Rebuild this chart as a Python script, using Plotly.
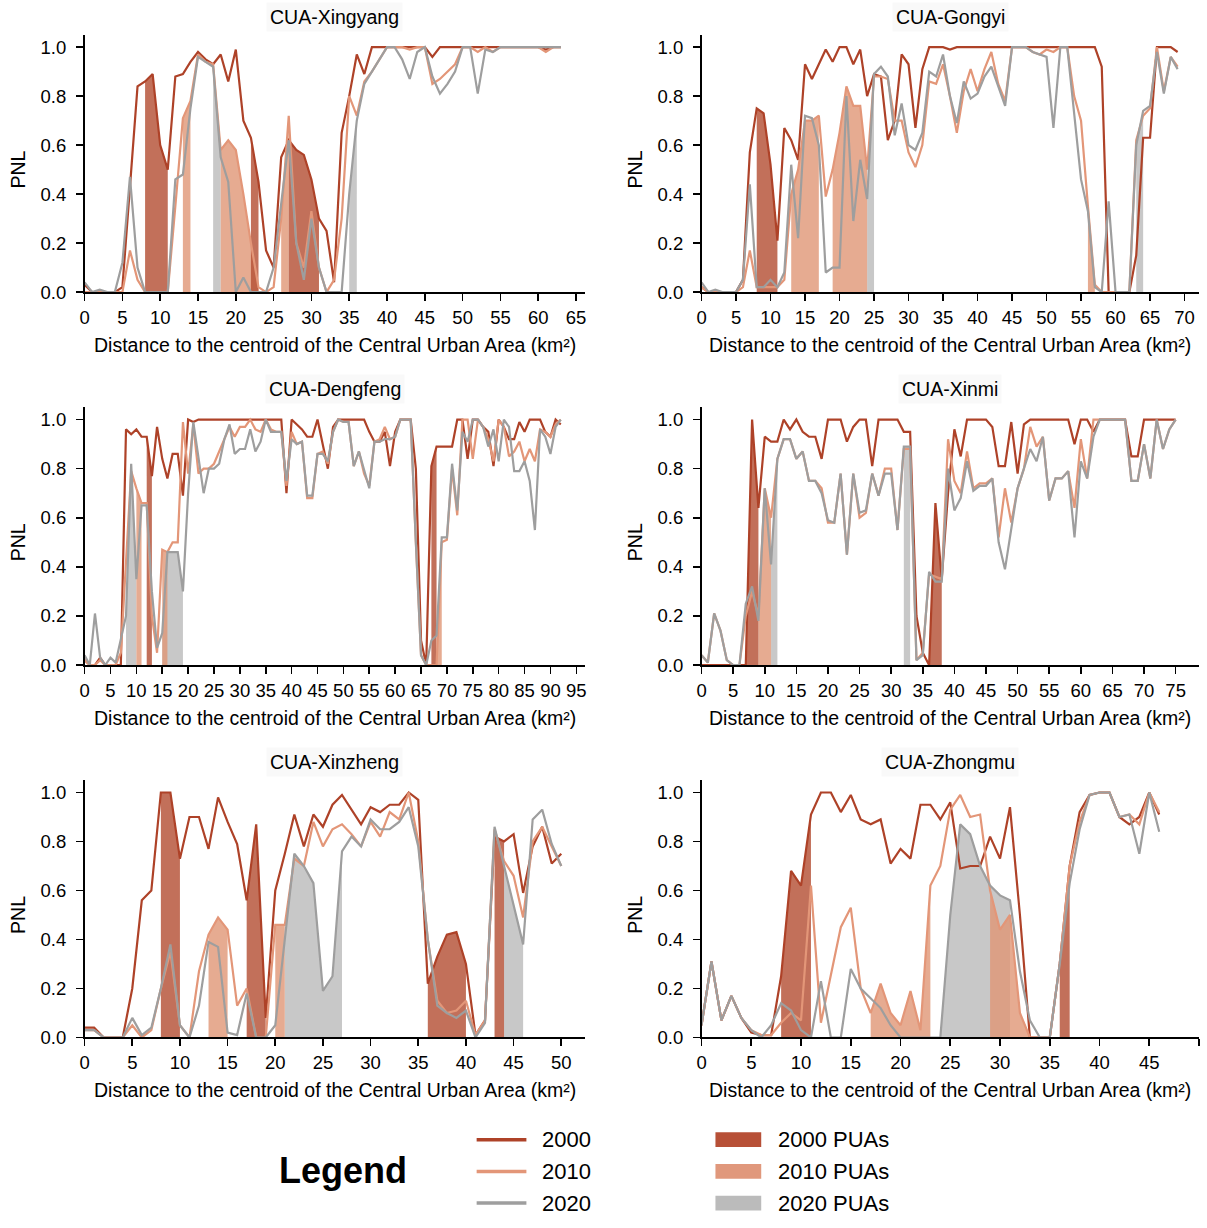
import plotly.graph_objects as go

# ---------------- data (PNL by distance, 1 km steps starting at 0 km) ----------------
xingyang_2000 = [0.03, 0.00, 0.00, 0.00, 0.00, 0.02, 0.42, 0.84, 0.86, 0.89,
                 0.60, 0.50, 0.88, 0.89, 0.94, 0.98, 0.95, 0.93, 0.97, 0.86,
                 0.99, 0.70, 0.63, 0.45, 0.17, 0.10, 0.55, 0.62, 0.58, 0.56,
                 0.46, 0.30, 0.25, 0.04, 0.65, 0.80, 0.97, 0.89, 1.00, 1.00,
                 1.00, 1.00, 1.00, 1.00, 1.00, 1.00, 0.96, 1.00, 1.00, 1.00,
                 1.00, 1.00, 1.00, 1.00, 1.00, 1.00, 1.00, 1.00, 1.00, 1.00,
                 1.00, 0.99, 1.00, 1.00]
xingyang_2010 = [0.00, 0.00, 0.00, 0.00, 0.00, 0.00, 0.17, 0.05, 0.00, 0.00,
                 0.00, 0.00, 0.35, 0.71, 0.78, 0.97, 0.94, 0.93, 0.58, 0.62,
                 0.58, 0.40, 0.20, 0.02, 0.00, 0.02, 0.30, 0.72, 0.20, 0.10,
                 0.33, 0.10, 0.00, 0.05, 0.30, 0.80, 0.72, 0.86, 0.90, 0.95,
                 1.00, 1.00, 1.00, 0.99, 1.00, 1.00, 0.85, 0.87, 0.90, 0.93,
                 1.00, 1.00, 0.98, 1.00, 0.98, 1.00, 1.00, 1.00, 1.00, 1.00,
                 1.00, 0.98, 1.00, 1.00]
xingyang_2020 = [0.04, 0.00, 0.01, 0.00, 0.00, 0.12, 0.47, 0.10, 0.00, 0.00,
                 0.00, 0.00, 0.46, 0.48, 0.75, 0.96, 0.94, 0.92, 0.55, 0.45,
                 0.00, 0.06, 0.00, 0.00, 0.00, 0.10, 0.35, 0.62, 0.20, 0.05,
                 0.30, 0.10, 0.00, 0.00, 0.00, 0.40, 0.70, 0.85, 0.90, 0.95,
                 1.00, 1.00, 0.95, 0.87, 0.98, 1.00, 0.88, 0.81, 0.85, 0.90,
                 1.00, 1.00, 0.81, 0.99, 0.98, 1.00, 1.00, 1.00, 1.00, 1.00,
                 1.00, 1.00, 1.00, 1.00]
xingyang_pua2000 = [(8, 11), (22, 23), (27, 31)]
xingyang_pua2010 = [(13, 14), (18, 23), (26, 27)]
xingyang_pua2020 = [(17, 18), (35, 36)]

gongyi_2000 = [0.02, 0.00, 0.00, 0.00, 0.00, 0.00, 0.05, 0.57, 0.75, 0.73,
               0.52, 0.21, 0.67, 0.62, 0.54, 0.93, 0.87, 0.93, 0.99, 0.94,
               1.00, 1.00, 0.93, 0.99, 0.80, 0.89, 0.88, 0.62, 0.70, 0.97,
               0.93, 0.67, 0.91, 1.00, 1.00, 1.00, 0.99, 1.00, 1.00, 1.00,
               1.00, 1.00, 1.00, 1.00, 1.00, 1.00, 1.00, 1.00, 1.00, 1.00,
               1.00, 1.00, 1.00, 1.00, 1.00, 1.00, 1.00, 1.00, 0.92, 0.00,
               0.00, 0.00, 0.00, 0.15, 0.63, 0.63, 1.00, 1.00, 1.00, 0.98]
gongyi_2010 = [0.02, 0.00, 0.00, 0.00, 0.00, 0.00, 0.02, 0.17, 0.02, 0.02,
               0.02, 0.02, 0.05, 0.40, 0.50, 0.70, 0.70, 0.72, 0.39, 0.50,
               0.65, 0.84, 0.76, 0.76, 0.50, 0.88, 0.88, 0.87, 0.70, 0.70,
               0.57, 0.51, 0.60, 0.86, 0.85, 0.93, 0.80, 0.65, 0.82, 0.91,
               0.82, 0.91, 0.98, 0.85, 0.78, 1.00, 1.00, 1.00, 0.98, 0.97,
               0.99, 0.98, 1.00, 1.00, 0.80, 0.70, 0.35, 0.03, 0.00, 0.00,
               0.00, 0.00, 0.00, 0.62, 0.72, 0.75, 1.00, 0.82, 0.96, 0.92]
gongyi_2020 = [0.04, 0.00, 0.01, 0.00, 0.00, 0.00, 0.05, 0.44, 0.02, 0.02,
               0.05, 0.02, 0.08, 0.52, 0.22, 0.72, 0.71, 0.60, 0.08, 0.10,
               0.10, 0.80, 0.29, 0.54, 0.38, 0.89, 0.92, 0.88, 0.64, 0.77,
               0.60, 0.58, 0.65, 0.90, 0.88, 0.97, 0.80, 0.69, 0.86, 0.79,
               0.81, 0.88, 0.92, 0.84, 0.76, 1.00, 1.00, 1.00, 0.98, 0.97,
               0.96, 0.67, 1.00, 1.00, 0.72, 0.46, 0.33, 0.02, 0.00, 0.37,
               0.00, 0.00, 0.00, 0.60, 0.74, 0.76, 0.98, 0.81, 0.96, 0.91]
gongyi_pua2000 = [(8, 11)]
gongyi_pua2010 = [(13, 17), (19, 24), (56, 57)]
gongyi_pua2020 = [(24, 25), (63, 64)]

dengfeng_2000 = [0.02, 0.00, 0.00, 0.03, 0.00, 0.00, 0.00, 0.00, 0.96, 0.94,
                 0.96, 0.93, 0.93, 0.77, 0.97, 0.84, 0.76, 0.86, 0.86, 0.69,
                 1.00, 0.99, 1.00, 1.00, 1.00, 1.00, 1.00, 1.00, 1.00, 1.00,
                 1.00, 1.00, 1.00, 1.00, 1.00, 1.00, 1.00, 1.00, 1.00, 0.70,
                 1.00, 0.98, 0.96, 0.93, 0.93, 1.00, 0.90, 0.80, 0.97, 1.00,
                 1.00, 1.00, 1.00, 1.00, 1.00, 0.95, 0.91, 0.91, 0.95, 0.81,
                 0.95, 1.00, 1.00, 1.00, 0.80, 0.10, 0.00, 0.81, 0.89, 0.89,
                 0.89, 0.89, 1.00, 1.00, 0.84, 1.00, 1.00, 0.97, 0.95, 0.81,
                 1.00, 0.97, 0.92, 0.92, 0.99, 0.95, 1.00, 1.00, 1.00, 0.95,
                 0.93, 1.00, 0.98]
dengfeng_2010 = [0.02, 0.00, 0.00, 0.02, 0.00, 0.00, 0.00, 0.05, 0.40, 0.79,
                 0.72, 0.66, 0.66, 0.20, 0.05, 0.47, 0.46, 0.50, 0.50, 0.99,
                 0.78, 0.98, 0.78, 0.80, 0.80, 0.82, 0.87, 0.92, 0.97, 0.93,
                 0.97, 0.97, 1.00, 0.96, 0.95, 1.00, 0.96, 0.95, 0.95, 0.73,
                 0.95, 0.90, 0.91, 0.68, 0.68, 0.86, 0.87, 0.82, 0.95, 1.00,
                 0.99, 0.99, 0.81, 0.87, 0.78, 0.73, 0.91, 0.92, 0.97, 0.92,
                 0.93, 1.00, 1.00, 1.00, 0.50, 0.04, 0.00, 0.00, 0.00, 0.50,
                 0.51, 0.80, 0.61, 1.00, 1.00, 0.84, 1.00, 0.97, 0.92, 0.83,
                 1.00, 0.97, 0.85, 0.87, 0.91, 0.83, 0.88, 0.83, 0.96, 0.95,
                 0.93, 0.98, 1.00]
dengfeng_2020 = [0.04, 0.00, 0.21, 0.03, 0.00, 0.03, 0.01, 0.10, 0.20, 0.82,
                 0.35, 0.65, 0.65, 0.30, 0.07, 0.13, 0.46, 0.46, 0.46, 0.30,
                 0.70, 0.99, 0.85, 0.70, 0.80, 0.80, 0.82, 0.92, 0.98, 0.86,
                 0.88, 0.88, 0.96, 0.87, 0.91, 1.00, 0.95, 0.95, 0.95, 0.75,
                 0.92, 0.90, 0.91, 0.69, 0.69, 0.86, 0.86, 0.83, 0.95, 1.00,
                 0.99, 0.99, 0.81, 0.87, 0.80, 0.72, 0.91, 0.91, 0.92, 0.92,
                 0.93, 1.00, 1.00, 1.00, 0.50, 0.04, 0.00, 0.10, 0.12, 0.52,
                 0.52, 0.82, 0.63, 0.95, 0.91, 1.00, 1.00, 0.97, 0.89, 0.96,
                 0.83, 1.00, 0.97, 0.79, 0.79, 0.83, 0.75, 0.55, 0.96, 0.93,
                 0.86, 0.97, 1.00]
dengfeng_pua2000 = [(12, 13), (67, 68)]
dengfeng_pua2010 = [(10, 11), (15, 16), (68, 69)]
dengfeng_pua2020 = [(8, 10), (15, 19)]

xinmi_2000 = [0.00, 0.00, 0.00, 0.00, 0.00, 0.00, 0.00, 0.00, 1.00, 0.64,
              0.93, 0.91, 0.91, 1.00, 0.96, 1.00, 0.95, 0.93, 0.93, 0.84,
              1.00, 1.00, 1.00, 0.91, 0.97, 1.00, 1.00, 0.81, 1.00, 1.00,
              1.00, 1.00, 0.95, 0.95, 0.20, 0.05, 0.00, 0.66, 0.35, 0.70,
              0.96, 0.85, 1.00, 1.00, 1.00, 1.00, 0.97, 0.81, 0.81, 0.99,
              0.78, 0.98, 1.00, 1.00, 1.00, 1.00, 1.00, 1.00, 1.00, 0.90,
              1.00, 1.00, 0.95, 1.00, 1.00, 1.00, 1.00, 1.00, 0.85, 0.85,
              1.00, 1.00, 1.00, 1.00, 1.00, 1.00]
xinmi_2010 = [0.04, 0.01, 0.21, 0.14, 0.02, 0.00, 0.00, 0.20, 0.30, 0.20,
              0.72, 0.60, 0.84, 0.92, 0.92, 0.84, 0.87, 0.75, 0.75, 0.72,
              0.58, 0.58, 0.78, 0.45, 0.78, 0.60, 0.62, 0.78, 0.69, 0.80,
              0.80, 0.55, 0.88, 0.88, 0.02, 0.05, 0.37, 0.36, 0.35, 0.92,
              0.75, 0.70, 0.87, 0.72, 0.74, 0.74, 0.76, 0.52, 0.72, 0.58,
              0.72, 0.80, 0.97, 0.89, 0.93, 0.67, 0.76, 0.76, 0.79, 0.64,
              0.92, 0.76, 1.00, 1.00, 1.00, 1.00, 1.00, 1.00, 0.75, 0.75,
              0.90, 0.76, 1.00, 0.88, 0.96, 1.00]
xinmi_2020 = [0.04, 0.01, 0.21, 0.14, 0.02, 0.00, 0.00, 0.25, 0.32, 0.18,
              0.72, 0.41, 0.84, 0.92, 0.92, 0.84, 0.87, 0.75, 0.75, 0.70,
              0.59, 0.58, 0.78, 0.45, 0.78, 0.62, 0.63, 0.78, 0.69, 0.78,
              0.78, 0.55, 0.89, 0.89, 0.02, 0.04, 0.38, 0.34, 0.34, 0.80,
              0.63, 0.68, 0.83, 0.71, 0.73, 0.73, 0.76, 0.50, 0.39, 0.55,
              0.72, 0.80, 0.88, 0.83, 0.93, 0.67, 0.76, 0.76, 0.79, 0.52,
              0.83, 0.76, 0.93, 1.00, 1.00, 1.00, 1.00, 1.00, 0.75, 0.75,
              0.90, 0.76, 1.00, 0.88, 0.96, 1.00]
xinmi_pua2000 = [(7, 9), (36, 38)]
xinmi_pua2010 = [(9, 11)]
xinmi_pua2020 = [(11, 12), (32, 33)]

xinzheng_2000 = [0.04, 0.04, 0.00, 0.00, 0.00, 0.20, 0.56, 0.60, 1.00, 1.00,
                 0.73, 0.90, 0.90, 0.77, 0.98, 0.88, 0.79, 0.56, 0.87, 0.08,
                 0.60, 0.75, 0.91, 0.78, 0.91, 0.86, 0.95, 0.99, 0.93, 0.87,
                 0.94, 0.92, 0.95, 0.95, 1.00, 0.97, 0.22, 0.33, 0.42, 0.43,
                 0.30, 0.01, 0.07, 0.82, 0.80, 0.83, 0.59, 0.78, 0.86, 0.71,
                 0.75]
xinzheng_2010 = [0.03, 0.03, 0.00, 0.00, 0.00, 0.05, 0.00, 0.03, 0.20, 0.35,
                 0.05, 0.00, 0.27, 0.42, 0.49, 0.44, 0.13, 0.20, 0.00, 0.00,
                 0.46, 0.46, 0.73, 0.70, 0.88, 0.78, 0.85, 0.87, 0.83, 0.78,
                 0.88, 0.82, 0.92, 0.89, 1.00, 0.80, 0.40, 0.15, 0.10, 0.11,
                 0.15, 0.01, 0.07, 0.85, 0.72, 0.66, 0.49, 0.80, 0.86, 0.78,
                 0.70]
xinzheng_2020 = [0.03, 0.03, 0.00, 0.00, 0.00, 0.08, 0.01, 0.04, 0.20, 0.38,
                 0.05, 0.00, 0.13, 0.39, 0.37, 0.02, 0.01, 0.18, 0.00, 0.00,
                 0.05, 0.40, 0.75, 0.70, 0.63, 0.19, 0.25, 0.76, 0.82, 0.78,
                 0.89, 0.85, 0.85, 0.88, 0.94, 0.78, 0.40, 0.13, 0.10, 0.08,
                 0.11, 0.00, 0.06, 0.86, 0.70, 0.55, 0.38, 0.89, 0.93, 0.79,
                 0.70]
xinzheng_pua2000 = [(8, 10), (17, 19), (36, 40), (43, 44)]
xinzheng_pua2010 = [(13, 15), (20, 21)]
xinzheng_pua2020 = [(21, 27), (44, 46)]

zhongmu_2000 = [0.05, 0.31, 0.07, 0.17, 0.08, 0.02, 0.01, 0.01, 0.25, 0.68,
                0.62, 0.91, 1.00, 1.00, 0.92, 0.99, 0.89, 0.87, 0.89, 0.71,
                0.77, 0.73, 0.95, 0.95, 0.89, 0.96, 0.69, 0.70, 0.70, 0.82,
                0.73, 0.94, 0.50, 0.00, 0.00, 0.00, 0.30, 0.70, 0.92, 0.99,
                1.00, 1.00, 0.90, 0.87, 0.90, 1.00, 0.91]
zhongmu_2010 = [0.05, 0.31, 0.07, 0.17, 0.08, 0.03, 0.01, 0.01, 0.06, 0.10,
                0.07, 0.62, 0.06, 0.25, 0.45, 0.53, 0.20, 0.10, 0.22, 0.10,
                0.05, 0.19, 0.03, 0.62, 0.70, 0.93, 0.99, 0.90, 0.91, 0.60,
                0.44, 0.50, 0.10, 0.00, 0.00, 0.00, 0.30, 0.70, 0.88, 0.99,
                1.00, 1.00, 0.90, 0.91, 0.87, 1.00, 0.92]
zhongmu_2020 = [0.05, 0.31, 0.07, 0.17, 0.08, 0.03, 0.00, 0.05, 0.14, 0.11,
                0.03, 0.00, 0.23, 0.00, 0.00, 0.28, 0.20, 0.16, 0.12, 0.05,
                0.00, 0.00, 0.00, 0.00, 0.00, 0.50, 0.87, 0.83, 0.70, 0.62,
                0.58, 0.56, 0.27, 0.07, 0.00, 0.00, 0.30, 0.63, 0.85, 0.99,
                1.00, 1.00, 0.90, 0.91, 0.75, 1.00, 0.84]
zhongmu_pua2000 = [(8, 11), (36, 37)]
zhongmu_pua2010 = [(17, 23), (29, 33)]
zhongmu_pua2020 = [(24, 31)]

titles = ["CUA-Xingyang", "CUA-Gongyi", "CUA-Dengfeng", "CUA-Xinmi", "CUA-Xinzheng", "CUA-Zhongmu"]
x_max = [66.2, 72.1, 96.7, 78.7, 52.5, 50.0]
y_ticks = [0.0, 0.2, 0.4, 0.6, 0.8, 1.0]
legend_lines = ["2000", "2010", "2020"]
legend_patches = ["2000 PUAs", "2010 PUAs", "2020 PUAs"]

series = [
    (xingyang_2000, xingyang_2010, xingyang_2020, xingyang_pua2000, xingyang_pua2010, xingyang_pua2020),
    (gongyi_2000, gongyi_2010, gongyi_2020, gongyi_pua2000, gongyi_pua2010, gongyi_pua2020),
    (dengfeng_2000, dengfeng_2010, dengfeng_2020, dengfeng_pua2000, dengfeng_pua2010, dengfeng_pua2020),
    (xinmi_2000, xinmi_2010, xinmi_2020, xinmi_pua2000, xinmi_pua2010, xinmi_pua2020),
    (xinzheng_2000, xinzheng_2010, xinzheng_2020, xinzheng_pua2000, xinzheng_pua2010, xinzheng_pua2020),
    (zhongmu_2000, zhongmu_2010, zhongmu_2020, zhongmu_pua2000, zhongmu_pua2010, zhongmu_pua2020),
]

# ---------------- styling ----------------
FONT = "Liberation Sans, Arial, Helvetica, sans-serif"
LINE_C = ["rgb(174,66,40)", "rgb(227,150,120)", "rgb(158,158,158)"]
FILL_C = ["rgba(181,80,54,0.82)", "rgba(224,150,118,0.80)", "rgba(188,188,188,0.82)"]
PATCH_C = ["rgb(183,80,55)", "rgb(224,152,124)", "rgb(187,187,187)"]
TICK_SIZE = 18.5
LABEL_SIZE = 19.5

W, H = 1207, 1228
COLS = [(80, 583), (700, 1200)]
ROWS = [(294.5, 47.5), (670.5, 423), (1046, 799)]   # pixel rows of PNL 0.0 and 1.0
YTOP = 1.05

fig = go.Figure()
layout = dict(width=W, height=H, margin=dict(l=0, r=0, t=0, b=0),
              paper_bgcolor="white", plot_bgcolor="white", showlegend=False,
              font=dict(family=FONT, color="black", size=17))
annotations = []
shapes = []

for i, (s2000, s2010, s2020, p2000, p2010, p2020) in enumerate(series):
    lens = {len(s2000), len(s2010), len(s2020)}
    assert len(lens) == 1, (titles[i], len(s2000), len(s2010), len(s2020))
    r, c = divmod(i, 2)
    sfx = "" if i == 0 else str(i + 1)
    xa, ya = "x" + sfx, "y" + sfx
    x0px, x1px = COLS[c]
    y0px, y1px = ROWS[r]
    unit = y0px - y1px
    ytop_px = y0px - YTOP * unit
    axis_common = dict(showline=True, linecolor="black", linewidth=1.6, ticks="outside",
                       ticklen=7, tickwidth=1.6, tickcolor="black", showgrid=False,
                       zeroline=False, tickfont=dict(size=TICK_SIZE, color="black", family=FONT))
    layout["xaxis" + sfx] = dict(
        domain=[x0px / W, x1px / W], range=[0, x_max[i]], anchor=ya,
        tickmode="linear", tick0=0, dtick=5, ticklabelstandoff=1, **axis_common)
    layout["yaxis" + sfx] = dict(
        domain=[1 - y0px / H, 1 - ytop_px / H], range=[0, YTOP], anchor=xa,
        tickmode="array", tickvals=y_ticks, tickformat=".1f", ticklabelstandoff=6,
        **axis_common)

    xs = list(range(len(s2000)))
    vals = [s2000, s2010, s2020]
    puas = [p2000, p2010, p2020]
    # PUA shading: 2020 first, then 2010, then 2000
    for k in (2, 1, 0):
        for (a, b) in puas[k]:
            fig.add_trace(go.Scatter(x=xs[a:b + 1], y=vals[k][a:b + 1], xaxis=xa, yaxis=ya,
                                     mode="lines", line=dict(width=0, color=FILL_C[k]),
                                     fill="tozeroy", fillcolor=FILL_C[k], hoverinfo="skip",
                                     name=legend_patches[k]))
    for k in (0, 1, 2):
        fig.add_trace(go.Scatter(x=xs, y=vals[k], xaxis=xa, yaxis=ya, mode="lines",
                                 line=dict(width=2.2, color=LINE_C[k]),
                                 name=legend_lines[k]))

    cx = (x0px + x1px) / 2 / W
    annotations.append(dict(text=titles[i], x=cx, y=1 - (y1px - 30.5) / H, xref="paper", yref="paper",
                            showarrow=False, xanchor="center", yanchor="middle",
                            font=dict(size=LABEL_SIZE, family=FONT, color="black"),
                            bgcolor="#f9f9f9", borderpad=3))
    annotations.append(dict(text="Distance to the centroid of the Central Urban Area (km²)",
                            x=cx, y=1 - (y0px + 53) / H, xref="paper", yref="paper",
                            showarrow=False, xanchor="center", yanchor="middle",
                            font=dict(size=LABEL_SIZE, family=FONT, color="black")))
    annotations.append(dict(text="PNL", x=(x0px - 67) / W, y=1 - (y0px - unit / 2) / H,
                            xref="paper", yref="paper", showarrow=False, textangle=-90,
                            xanchor="center", yanchor="middle",
                            font=dict(size=LABEL_SIZE, family=FONT, color="black")))

# ---------------- legend ----------------
leg_y = [1149, 1181, 1213]
for k in range(3):
    yp = 1 - leg_y[k] / H
    shapes.append(dict(type="line", xref="paper", yref="paper", x0=474 / W, x1=524 / W,
                       y0=yp, y1=yp, line=dict(color=LINE_C[k], width=3.5)))
    annotations.append(dict(text=legend_lines[k], x=538 / W, y=yp, xref="paper", yref="paper",
                            showarrow=False, xanchor="left", yanchor="middle",
                            font=dict(size=22, family=FONT, color="black")))
    shapes.append(dict(type="rect", xref="paper", yref="paper", x0=714 / W, x1=760 / W,
                       y0=1 - (leg_y[k] + 7.5) / H, y1=1 - (leg_y[k] - 7.5) / H,
                       fillcolor=PATCH_C[k], line=dict(width=0)))
    annotations.append(dict(text=legend_patches[k], x=775 / W, y=yp, xref="paper", yref="paper",
                            showarrow=False, xanchor="left", yanchor="middle",
                            font=dict(size=22, family=FONT, color="black")))
annotations.append(dict(text="<b>Legend</b>", x=340 / W, y=1 - 1180 / H, xref="paper", yref="paper",
                        showarrow=False, xanchor="center", yanchor="middle",
                        font=dict(size=36, family=FONT, color="black")))

layout["annotations"] = annotations
layout["shapes"] = shapes
fig.update_layout(**layout)
fig.write_html("out.html",
               config={"displayModeBar": False, "staticPlot": True},
               post_script="document.body.style.margin='0px';"
                           "document.body.style.overflow='hidden';"
                           "document.documentElement.style.overflow='hidden';")
